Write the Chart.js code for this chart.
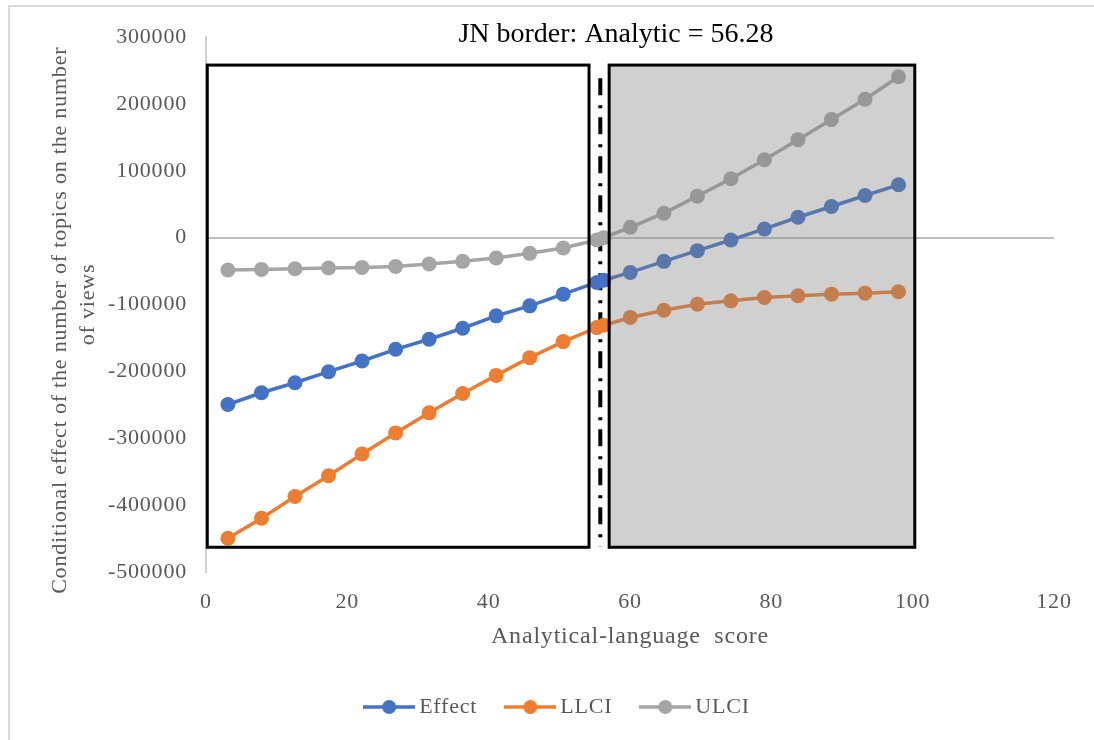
<!DOCTYPE html>
<html>
<head>
<meta charset="utf-8">
<script src="https://cdn.jsdelivr.net/npm/chart.js@4"></script>
<style>
  body { margin: 0; background: #fff; }
  #wrap { width: 1094px; height: 740px; }
</style>
</head>
<body>
<div id="wrap"><canvas id="grafico" width="1094" height="740"></canvas></div>
<script>
// Analytical-language score (x) and the three series
const analytic = [3.1, 7.85, 12.59, 17.34, 22.08, 26.83, 31.57, 36.32, 41.06, 45.81, 50.55, 55.3,
                  56.28, 60.04, 64.79, 69.53, 74.28, 79.02, 83.77, 88.51, 93.26, 98.0];
const effect = [-249500, -232000, -217000, -200500, -184500, -167000, -152000, -135500, -117000, -102000, -84500, -67000,
                -63700, -52000, -35500, -19500, -3500, 13000, 30500, 46500, 63000, 79000];
const llci = [-449500, -419500, -387000, -356000, -323500, -292000, -262000, -233000, -206000, -179500, -155500, -134500,
              -131000, -119500, -108500, -99500, -94500, -89500, -87000, -84500, -83000, -81000];
const ulci = [-48500, -47500, -46500, -45500, -44500, -43000, -39500, -35500, -30500, -23500, -15500, -3500,
              0, 15500, 36500, 62000, 88000, 116500, 146500, 176500, 207000, 240500];

const seriesNames = ['Effect', 'LLCI', 'ULCI'];
const xTicks = { min: 0, max: 120, step: 20 };
const yTicks = { min: -500000, max: 300000, step: 100000 };
const tituloJN = 'JN border: Analytic = 56.28';

// regions drawn on top of the plot (data units)
const cajaIzq = { x0: 0.18, x1: 54.2, y0: -463000, y1: 258000 };
const cajaDer = { x0: 57.05, x1: 100.3, y0: -463000, y1: 258000 };
const lineaJN = { x: 55.8, y0: -462000, y1: 238500 };

const colores = ['#4472C4', '#ED7D31', '#A5A5A5'];
const gris = '#595959';
const serif = "'Liberation Serif', 'Times New Roman', serif";

function puntos(ys) {
    return analytic.map((x, i) => ({ x: x, y: ys[i] }));
}

function iconoLeyenda(color) {
    const c = document.createElement('canvas');
    c.width = 52;
    c.height = 16;
    const g = c.getContext('2d');
    g.strokeStyle = color;
    g.lineWidth = 3.5;
    g.beginPath();
    g.moveTo(0, 8);
    g.lineTo(52, 8);
    g.stroke();
    g.fillStyle = color;
    g.beginPath();
    g.arc(26, 8, 7, 0, Math.PI * 2);
    g.fill();
    return c;
}
const iconos = colores.map(iconoLeyenda);

// Excel spreads its text a little
const espaciado = {
    id: 'espaciado',
    beforeLayout(chart) { chart.ctx.letterSpacing = '0.8px'; },
    beforeDraw(chart) { chart.ctx.letterSpacing = '0.8px'; }
};

const marco = {
    id: 'marco',
    beforeDraw(chart) {
        const ctx = chart.ctx;
        ctx.save();
        ctx.strokeStyle = '#d9d9d9';
        ctx.lineWidth = 2;
        ctx.beginPath();
        ctx.moveTo(9, chart.height);
        ctx.lineTo(9, 6);
        ctx.lineTo(chart.width, 6);
        ctx.stroke();
        ctx.restore();
    }
};

const regiones = {
    id: 'regiones',
    beforeDatasetsDraw(chart) {
        const { ctx, scales: { x, y } } = chart;
        ctx.save();
        ctx.strokeStyle = '#000';
        ctx.lineWidth = 4;
        ctx.setLineDash([17, 10, 3, 9]);
        ctx.beginPath();
        ctx.moveTo(x.getPixelForValue(lineaJN.x), y.getPixelForValue(lineaJN.y1));
        ctx.lineTo(x.getPixelForValue(lineaJN.x), y.getPixelForValue(lineaJN.y0));
        ctx.stroke();
        ctx.restore();
    },
    afterDatasetsDraw(chart) {
        const { ctx, scales: { x, y } } = chart;
        const rect = (c) => [x.getPixelForValue(c.x0), y.getPixelForValue(c.y1),
                             x.getPixelForValue(c.x1) - x.getPixelForValue(c.x0),
                             y.getPixelForValue(c.y0) - y.getPixelForValue(c.y1)];
        ctx.save();
        ctx.fillStyle = 'rgba(128,128,128,0.37)';
        ctx.fillRect(...rect(cajaDer));
        ctx.strokeStyle = '#000';
        ctx.lineWidth = 3;
        ctx.strokeRect(...rect(cajaDer));
        ctx.strokeRect(...rect(cajaIzq));
        ctx.restore();
    },
    afterDraw(chart) {
        const ctx = chart.ctx;
        ctx.save();
        ctx.letterSpacing = '0px';
        ctx.font = '28px ' + serif;
        ctx.fillStyle = '#000';
        ctx.textAlign = 'center';
        ctx.textBaseline = 'alphabetic';
        ctx.fillText(tituloJN, 616, 42);
        ctx.restore();
    }
};

const ctx = document.getElementById('grafico').getContext('2d');
new Chart(ctx, {
    type: 'line',
    data: {
        datasets: [effect, llci, ulci].map((serie, i) => ({
            label: seriesNames[i],
            data: puntos(serie),
            borderColor: colores[i],
            backgroundColor: colores[i],
            borderWidth: 3.5,
            pointRadius: 7.5,
            pointBorderWidth: 0,
            pointHoverRadius: 7.5,
            tension: 0
        }))
    },
    options: {
        responsive: false,
        animation: false,
        devicePixelRatio: 1,
        // left padding only pushes the legend towards the middle of the plot
        layout: { padding: { top: 37, left: 66, right: 40, bottom: 12 } },
        scales: {
            x: {
                type: 'linear',
                min: xTicks.min,
                max: xTicks.max,
                afterFit(scale) { scale.height = 90; },
                grid: { display: false, drawTicks: false },
                border: { display: false },
                ticks: {
                    stepSize: xTicks.step,
                    padding: 17,
                    color: gris,
                    font: { family: serif, size: 22 }
                },
                title: {
                    display: true,
                    text: 'Analytical-language  score',
                    color: gris,
                    padding: { top: 0, bottom: 11 },
                    font: { family: serif, size: 24 }
                }
            },
            y: {
                min: yTicks.min,
                max: yTicks.max,
                afterFit(scale) { scale.width = 140; },
                grid: {
                    drawTicks: false,
                    lineWidth: 2,
                    color: c => c.tick && c.tick.value === 0 ? '#bfbfbf' : 'rgba(0,0,0,0)'
                },
                border: { display: true, color: '#d0d0d0', width: 2 },
                ticks: {
                    stepSize: yTicks.step,
                    padding: 19,
                    color: gris,
                    font: { family: serif, size: 22 },
                    callback: v => String(v)
                },
                title: {
                    display: true,
                    text: ['Conditional effect of the number of topics on the number     ', 'of views'],
                    color: gris,
                    padding: { top: -19, bottom: 0 },
                    font: { family: serif, size: 22, lineHeight: 1.24 }
                }
            }
        },
        plugins: {
            legend: {
                position: 'bottom',
                labels: {
                    usePointStyle: true,
                    pointStyleWidth: 38,
                    padding: 34,
                    color: gris,
                    font: { family: serif, size: 22 },
                    generateLabels: chart => chart.data.datasets.map((ds, i) => ({
                        text: ds.label,
                        pointStyle: iconos[i],
                        fillStyle: ds.borderColor,
                        strokeStyle: ds.borderColor,
                        fontColor: gris,
                        lineWidth: 0,
                        hidden: false,
                        datasetIndex: i
                    }))
                }
            },
            tooltip: { enabled: false }
        }
    },
    plugins: [espaciado, marco, regiones]
});
</script>
</body>
</html>
